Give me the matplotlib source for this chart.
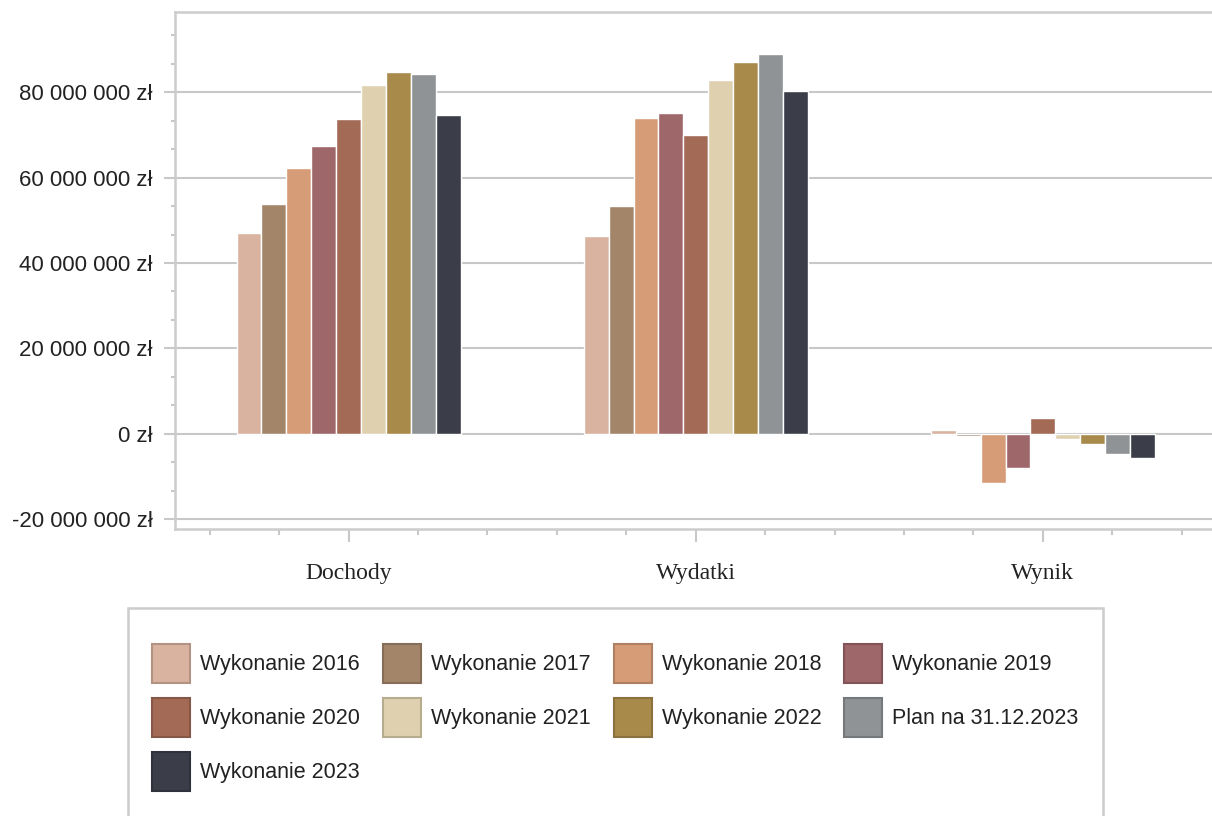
import numpy as np
import matplotlib.pyplot as plt
from matplotlib.patches import Patch, Rectangle
from matplotlib.ticker import FuncFormatter, MultipleLocator, FixedLocator
import matplotlib.colors as mcolors

plt.rcParams['font.family'] = ['Liberation Sans', 'DejaVu Sans']

# ---------------- dane ----------------
categories = ["Dochody", "Wydatki", "Wynik"]
series_names = ["Wykonanie 2016", "Wykonanie 2017", "Wykonanie 2018", "Wykonanie 2019",
                "Wykonanie 2020", "Wykonanie 2021", "Wykonanie 2022", "Plan na 31.12.2023",
                "Wykonanie 2023"]
# wartości w zł: [Dochody, Wydatki, Wynik]
w2016 = [47.1e6, 46.3e6, 0.8e6]
w2017 = [53.8e6, 53.3e6, -0.5e6]
w2018 = [62.3e6, 73.9e6, -11.6e6]
w2019 = [67.3e6, 75.1e6, -7.9e6]
w2020 = [73.8e6, 69.9e6, 3.8e6]
w2021 = [81.6e6, 82.8e6, -1.3e6]
w2022 = [84.8e6, 87.0e6, -2.3e6]
plan2023 = [84.2e6, 88.9e6, -4.7e6]
w2023 = [74.6e6, 80.2e6, -5.7e6]
values = [w2016, w2017, w2018, w2019, w2020, w2021, w2022, plan2023, w2023]

colors = ["#D9B3A0", "#A3856A", "#D69B77", "#9E676A", "#A36A55",
          "#DFD0B0", "#A88A4A", "#8F9396", "#3B3D48"]

# ---------------- wykres ----------------
fig = plt.figure(figsize=(12.12, 8.16), dpi=100)
ax = fig.add_axes([0.1444, 0.3517, 0.8593, 0.6336])

x = np.arange(len(categories))
w = 0.0717
for i, (name, vals, c) in enumerate(zip(series_names, values, colors)):
    ax.bar(x + (i - 4) * w, vals, width=w, color=c, edgecolor="white",
           linewidth=1.0, zorder=3, label=name)

ax.set_xlim(-0.5, 2.5)
ax.set_ylim(-22.3e6, 98.8e6)

grid_c = "#C8C8C8"
ax.yaxis.set_major_locator(MultipleLocator(20e6))
ax.yaxis.set_minor_locator(MultipleLocator(20e6 / 3))
ax.yaxis.set_major_formatter(FuncFormatter(
    lambda v, p: f"{int(round(v)):,} zł".replace(",", " ")))
ax.grid(axis="y", which="major", color=grid_c, linewidth=1.5, zorder=1)

ax.set_xticks(x)
ax.set_xticklabels(categories, family="Liberation Serif", fontsize=17, color="#222222")
minor_x = [round(k * 0.2, 1) for k in range(-2, 13) if k % 5 != 0]
ax.xaxis.set_minor_locator(FixedLocator(minor_x))

ax.tick_params(axis="y", which="major", length=8, width=1.5, color=grid_c,
               labelsize=16, labelcolor="#222222", pad=8)
ax.tick_params(axis="y", which="minor", length=3, width=1.5, color=grid_c)
ax.tick_params(axis="x", which="major", length=9.5, width=1.5, color=grid_c, pad=15)
ax.tick_params(axis="x", which="minor", length=4.5, width=1.5, color=grid_c)

for s in ax.spines.values():
    s.set_color("#CCCCCC")
    s.set_linewidth(1.8)

# ---------------- legenda ----------------
# kolejność wierszami (jak w oryginale) -> kolejność kolumnami dla matplotlib
order = [0, 4, 8, 1, 5, 2, 6, 3, 7]
handles = []
for k in order:
    c = colors[k]
    edge = tuple(v * 0.82 for v in mcolors.to_rgb(c))
    handles.append(Patch(facecolor=c, edgecolor=edge, linewidth=1.5, label=series_names[k]))

fig.patches.append(Rectangle((128 / 1212, -0.05), (1103 - 128) / 1212, 0.05 + (816 - 608) / 816,
                             transform=fig.transFigure, fill=False,
                             edgecolor="#CCCCCC", linewidth=1.8))
fig.legend(handles=handles, ncol=4, loc="upper left",
           bbox_to_anchor=(152 / 1212, 1 - 644 / 816), frameon=False,
           fontsize=15.5, handlelength=1.77, handleheight=2.41,
           handletextpad=0.46, columnspacing=1.07, labelspacing=0.7,
           borderpad=0, borderaxespad=0, labelcolor="#222222")

plt.savefig("out.png", dpi=100)
